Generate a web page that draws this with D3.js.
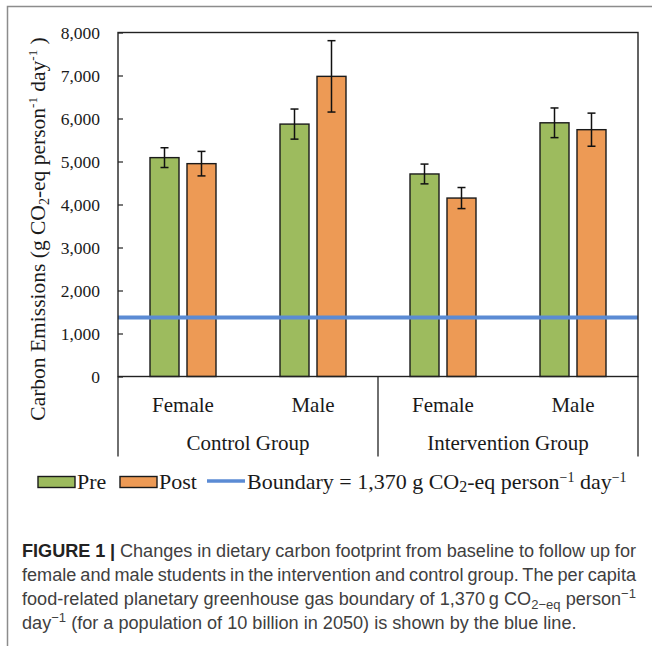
<!DOCTYPE html>
<html>
<head>
<meta charset="utf-8">
<script src="https://cdn.jsdelivr.net/npm/d3@7"></script>
<style>
  body { margin: 0; background: #fff; }
  svg { display: block; }
</style>
</head>
<body>
<div id="chart"></div>
<script>
// values
const categories = ['Female', 'Male', 'Female', 'Male'];
const groups = ['Control Group', 'Control Group', 'Intervention Group', 'Intervention Group'];
const series = ['Pre', 'Post'];
const preValues = [5090, 5870, 4710, 5900];
const postValues = [4950, 6980, 4150, 5740];
const preErrors = [230, 350, 230, 345];
const postErrors = [285, 830, 245, 385];
const boundary = 1370;
const yTicks = [0, 1000, 2000, 3000, 4000, 5000, 6000, 7000, 8000];

const width = 652;
const height = 646;
const margin = {top: 32.5, right: 14, bottom: 269.5, left: 118};
const graphWidth = width - margin.left - margin.right;
const graphHeight = height - margin.top - margin.bottom;

const serif = '"Liberation Serif", "Times New Roman", serif';
const sans = '"Liberation Sans", Arial, sans-serif';

const rows = categories.map((c, i) => ({
    idx: i,
    cat: c,
    group: groups[i],
    values: [
        {s: 'Pre', v: preValues[i], e: preErrors[i]},
        {s: 'Post', v: postValues[i], e: postErrors[i]}
    ]
}));

const svg = d3.select('#chart')
    .append('svg')
    .attr('width', width)
    .attr('height', height);

svg.append('rect').attr('width', width).attr('height', height).attr('fill', '#fff');

// grey frame of the figure panel (top + left only)
svg.append('path')
    .attr('d', `M7.5,${height} V6.5 H${width}`)
    .attr('fill', 'none')
    .attr('stroke', '#8c8c8c')
    .attr('stroke-width', 1.5);

const x0 = d3.scaleBand()
    .domain(rows.map(d => d.idx))
    .range([0, graphWidth]);

const x1 = d3.scaleBand()
    .domain(series)
    .range([0, x0.bandwidth()])
    .paddingInner(0.216)
    .paddingOuter(0.865);

const y = d3.scaleLinear()
    .domain([0, 8000])
    .range([graphHeight, 0]);

const color = d3.scaleOrdinal()
    .domain(series)
    .range(['#9dbb5e', '#ed9a55']);

const graph = svg.append('g')
    .attr('transform', `translate(${margin.left}, ${margin.top})`);

// y axis, ticks point inwards
const yAxis = d3.axisLeft(y)
    .tickValues(yTicks)
    .tickFormat(d3.format(','))
    .tickSizeInner(-5)
    .tickSizeOuter(0)
    .tickPadding(18);

const yG = graph.append('g').call(yAxis);
yG.select('.domain').remove();
yG.selectAll('line').attr('stroke', '#222').attr('stroke-width', 1.2);
yG.selectAll('text')
    .attr('font-family', serif)
    .attr('font-size', 17.5)
    .attr('fill', '#1a1a1a');

// bars
const cat = graph.selectAll('.cat')
    .data(rows)
    .enter().append('g')
    .attr('class', 'cat')
    .attr('transform', d => `translate(${x0(d.idx)}, 0)`);

cat.selectAll('rect')
    .data(d => d.values)
    .enter().append('rect')
    .attr('x', d => x1(d.s))
    .attr('y', d => y(d.v))
    .attr('width', x1.bandwidth())
    .attr('height', d => graphHeight - y(d.v))
    .attr('fill', d => color(d.s))
    .attr('stroke', '#1a1a1a')
    .attr('stroke-width', 1.4);

// error bars
const err = cat.selectAll('.err')
    .data(d => d.values)
    .enter().append('g')
    .attr('class', 'err')
    .attr('stroke', '#111')
    .attr('stroke-width', 1.5);

err.append('line')
    .attr('x1', d => x1(d.s) + x1.bandwidth() / 2)
    .attr('x2', d => x1(d.s) + x1.bandwidth() / 2)
    .attr('y1', d => y(d.v + d.e))
    .attr('y2', d => y(d.v - d.e));
[1, -1].forEach(k => {
    err.append('line')
        .attr('x1', d => x1(d.s) + x1.bandwidth() / 2 - 4)
        .attr('x2', d => x1(d.s) + x1.bandwidth() / 2 + 4)
        .attr('y1', d => y(d.v + k * d.e))
        .attr('y2', d => y(d.v + k * d.e));
});

// boundary line
graph.append('line')
    .attr('x1', 0)
    .attr('x2', graphWidth)
    .attr('y1', y(boundary))
    .attr('y2', y(boundary))
    .attr('stroke', '#5b8bd4')
    .attr('stroke-width', 4);

// plot frame
graph.append('rect')
    .attr('width', graphWidth)
    .attr('height', graphHeight)
    .attr('fill', 'none')
    .attr('stroke', '#222')
    .attr('stroke-width', 1.4);

// two level category axis
graph.selectAll('.catlabel')
    .data(rows)
    .enter().append('text')
    .attr('x', d => x0(d.idx) + x0.bandwidth() / 2)
    .attr('y', graphHeight + 35)
    .attr('text-anchor', 'middle')
    .attr('font-family', serif)
    .attr('font-size', 21)
    .attr('fill', '#1a1a1a')
    .text(d => d.cat);

const groupSpans = Array.from(d3.group(rows, d => d.group), ([g, r]) => ({
    group: g,
    start: x0(r[0].idx),
    end: x0(r[r.length - 1].idx) + x0.bandwidth()
}));

graph.selectAll('.grouplabel')
    .data(groupSpans)
    .enter().append('text')
    .attr('x', d => (d.start + d.end) / 2)
    .attr('y', graphHeight + 73)
    .attr('text-anchor', 'middle')
    .attr('font-family', serif)
    .attr('font-size', 21)
    .attr('fill', '#1a1a1a')
    .text(d => d.group);

const seps = [groupSpans[0].start].concat(groupSpans.map(d => d.end));
graph.selectAll('.sep')
    .data(seps)
    .enter().append('line')
    .attr('x1', d => d)
    .attr('x2', d => d)
    .attr('y1', graphHeight)
    .attr('y2', graphHeight + 80)
    .attr('stroke', '#222')
    .attr('stroke-width', 1.3);

// y title
const yTitle = svg.append('text')
    .attr('transform', 'translate(45, 229) rotate(-90)')
    .attr('text-anchor', 'middle')
    .attr('font-family', serif)
    .attr('font-size', 21.5)
    .attr('fill', '#1a1a1a');
yTitle.append('tspan').text('Carbon Emissions (g CO');
yTitle.append('tspan').attr('font-size', 14).attr('dy', 4).text('2');
yTitle.append('tspan').attr('dy', -4).text('-eq person');
yTitle.append('tspan').attr('font-size', 13).attr('dy', -8).text('-1');
yTitle.append('tspan').attr('dy', 8).text(' day');
yTitle.append('tspan').attr('font-size', 13).attr('dy', -8).text('-1');
yTitle.append('tspan').attr('dy', 8).text(' )');

// legend
const legend = svg.append('g')
    .attr('transform', 'translate(38, 476)')
    .attr('font-family', serif)
    .attr('font-size', 22)
    .attr('fill', '#1a1a1a');

const swatchX = [0, 82];
series.forEach((s, i) => {
    legend.append('rect')
        .attr('x', swatchX[i])
        .attr('y', 0.5)
        .attr('width', 37)
        .attr('height', 11)
        .attr('fill', color(s))
        .attr('stroke', '#1a1a1a')
        .attr('stroke-width', 1.4);
    legend.append('text')
        .attr('x', swatchX[i] + 39)
        .attr('y', 12.5)
        .text(s);
});
legend.append('line')
    .attr('x1', 169)
    .attr('x2', 207)
    .attr('y1', 5)
    .attr('y2', 5)
    .attr('stroke', '#5b8bd4')
    .attr('stroke-width', 3.5);
const lt = legend.append('text').attr('x', 209).attr('y', 12.5);
lt.append('tspan').text('Boundary = ' + d3.format(',')(boundary) + ' g CO');
lt.append('tspan').attr('font-size', 16).attr('dy', 3).text('2');
lt.append('tspan').attr('dy', -3).text('-eq person');
lt.append('tspan').attr('font-size', 14).attr('dy', -7).text('\u22121');
lt.append('tspan').attr('dy', 7).text(' day');
lt.append('tspan').attr('font-size', 14).attr('dy', -7).text('\u22121');

// caption
const captionLines = [
    [{t: 'FIGURE 1 | ', b: true}, {t: 'Changes in dietary carbon footprint from baseline to follow up for'}],
    [{t: 'female and male students in the intervention and control group. The per capita'}],
    [{t: 'food-related planetary greenhouse gas boundary of 1,370\u2009g CO'}, {t: '2\u2212eq', shift: 4}, {t: ' person'}, {t: '\u22121', shift: -7}],
    [{t: 'day'}, {t: '\u22121', shift: -7}, {t: ' (for a population of 10 billion in 2050) is shown by the blue line.'}]
];
const capBase = [557, 581, 605, 629];

const capTexts = captionLines.map((line, i) => {
    const t = svg.append('text')
        .attr('x', 22)
        .attr('y', capBase[i])
        .attr('font-family', sans)
        .attr('font-size', 17)
        .attr('fill', '#404040');
    let prev = 0;
    line.forEach(seg => {
        const sh = seg.shift || 0;
        const sp = t.append('tspan')
            .attr('dy', sh - prev)
            .text(seg.t);
        if (seg.b) sp.attr('font-weight', 'bold').attr('fill', '#222');
        if (sh !== 0) sp.attr('font-size', '0.72em');
        prev = sh;
    });
    return t;
});

// fit font so the last (ragged) line reaches about x=577, then justify the rest
const natLast = capTexts[3].node().getComputedTextLength();
const capSize = 17 * 555 / natLast;
capTexts.forEach(t => t.attr('font-size', capSize));
capTexts.slice(0, 3).forEach((t, i) => {
    const nat = t.node().getComputedTextLength();
    const spaces = captionLines[i].map(s => s.t).join('').split(' ').length - 1;
    t.style('word-spacing', ((614 - nat) / spaces) + 'px');
});
</script>
</body>
</html>
